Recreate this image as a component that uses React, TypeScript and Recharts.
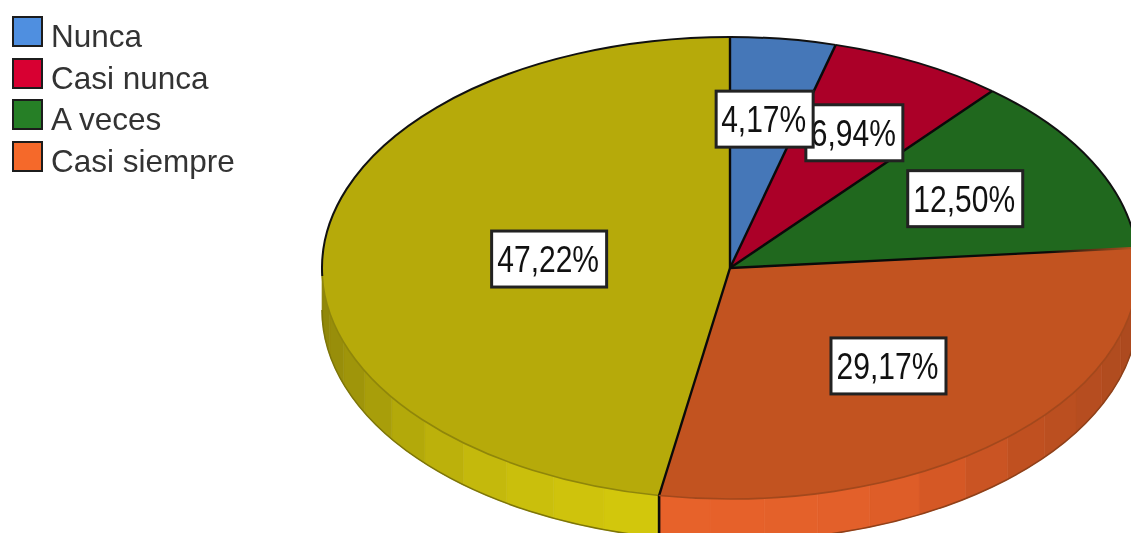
import React from "react";
import { PieChart, Pie, Legend } from "recharts";

const categories = ["Nunca", "Casi nunca", "A veces", "Casi siempre", "Siempre"];
const shares = [4.17, 6.94, 12.5, 29.17, 47.22];
const legendColors = ["#4f8fe0", "#d80032", "#267f26", "#f5692a"];
const topColors = ["#4577b8", "#ab0028", "#20681e", "#c25320", "#b6aa0a"];
const labelReach = [0.65, 0.66, 0.65, 0.575, 0.445];
const wallStops: [number, string][] = [
  [90, "#a5481f"],
  [133, "#bf5020"],
  [148, "#d45825"],
  [160, "#e2602a"],
  [189.9, "#e8622a"],
  [190, "#d4c90c"],
  [202, "#cfc30c"],
  [213, "#c8bd0c"],
  [221, "#c0b50b"],
  [229, "#b8ad0a"],
  [240, "#a89e0a"],
  [252, "#9a900a"],
  [270, "#8b8209"],
];

const WIDTH = 1131;
const HEIGHT = 533;
const TILT = 231 / 408;
const DEPTH = 42;
const BAND = 7.6;
const BAND_OFFSET = 0.4;

// drawn in reverse so the first slice's label sits on top, as in the reference
const rows = categories
  .map((name, i) => ({ name, value: shares[i], order: i }))
  .reverse();

const hex = (c: string) => [1, 3, 5].map((i) => parseInt(c.slice(i, i + 2), 16));
const mix = (a: string, b: string, f: number) => {
  const x = hex(a);
  const y = hex(b);
  return `rgb(${x.map((v, i) => Math.round(v + (y[i] - v) * f)).join(",")})`;
};
const wallColor = (t: number) => {
  for (let i = 1; i < wallStops.length; i++) {
    const [t0, c0] = wallStops[i - 1];
    const [t1, c1] = wallStops[i];
    if (t <= t1) return mix(c0, c1, Math.max(0, (t - t0) / (t1 - t0)));
  }
  return wallStops[wallStops.length - 1][1];
};

const span = (p: any) => {
  const sweep = Math.abs(p.endAngle - p.startAngle);
  const t1 = ((90 - Math.max(p.startAngle, p.endAngle)) % 360 + 360) % 360;
  return { t1, t2: t1 + sweep };
};
const pointAt = (p: any, t: number, drop = 0) => {
  const r = (t * Math.PI) / 180;
  return {
    x: p.cx + p.outerRadius * Math.sin(r),
    y: p.cy - p.outerRadius * TILT * Math.cos(r) + drop,
  };
};
const arcTo = (p: any, a: any, sweepFlag: number, large = 0) =>
  `A${p.outerRadius} ${p.outerRadius * TILT} 0 ${large} ${sweepFlag} ${a.x} ${a.y}`;

const WallShape = (p: any) => {
  const { t1, t2 } = span(p);
  const from = Math.max(t1, 90);
  const to = Math.min(t2, 270);
  if (to <= from) return <g />;
  const bands: React.ReactNode[] = [];
  let g = BAND_OFFSET + Math.floor((from - BAND_OFFSET) / BAND) * BAND;
  for (; g < to; g += BAND) {
    const a = Math.max(g, from);
    const b = Math.min(g + BAND, to);
    const pa = pointAt(p, a);
    const pb = pointAt(p, b);
    const qa = pointAt(p, a, DEPTH);
    const qb = pointAt(p, b, DEPTH);
    const col = wallColor((a + b) / 2);
    bands.push(
      <path
        key={g}
        d={`M${pa.x} ${pa.y}${arcTo(p, pb, 1)}L${qb.x} ${qb.y}${arcTo(p, qa, 0)}Z`}
        fill={col}
        stroke={col}
        strokeWidth={0.6}
      />
    );
  }
  const s = pointAt(p, from, DEPTH);
  const e = pointAt(p, to, DEPTH);
  return (
    <g>
      {bands}
      <path d={`M${s.x} ${s.y}${arcTo(p, e, 1)}`} fill="none" stroke={t1 < 150 ? "#8f4019" : "#7d7508"} strokeWidth={1.5} />
    </g>
  );
};

const TopShape = (p: any) => {
  const { t1, t2 } = span(p);
  const a = pointAt(p, t1);
  const b = pointAt(p, t2);
  const large = t2 - t1 > 180 ? 1 : 0;
  return (
    <path
      d={`M${p.cx} ${p.cy}L${a.x} ${a.y}${arcTo(p, b, 1, large)}Z`}
      fill={topColors[p.payload?.order ?? p.order]}
      stroke="none"
    />
  );
};

const EdgeShape = (p: any) => {
  const { t1, t2 } = span(p);
  const order = p.payload?.order ?? p.order;
  const a = pointAt(p, t1);
  const low1 = Math.max(t1, 85);
  const low2 = Math.min(t2, 268);
  const pieces: React.ReactNode[] = [];
  if (low2 > low1) {
    const s = pointAt(p, low1);
    const e = pointAt(p, low2);
    pieces.push(
      <path key="soft" d={`M${s.x} ${s.y}${arcTo(p, e, 1)}`} fill="none" stroke={order === 3 ? "#a3481c" : "#8f860a"} strokeWidth={1.6} />
    );
  }
  const ranges = [[Math.max(t1, 268), t2], [t1, Math.min(t2, 85)]];
  ranges.forEach(([x, y], i) => {
    if (y > x) {
      const s = pointAt(p, x);
      const e = pointAt(p, y);
      pieces.push(
        <path key={`hard${i}`} d={`M${s.x} ${s.y}${arcTo(p, e, 1, y - x > 180 ? 1 : 0)}`} fill="none" stroke="#111" strokeWidth={2} />
      );
    }
  });
  const fades = order === 3;
  if (fades) {
    pieces.push(
      <linearGradient key="grad" id="fadeEdge" gradientUnits="userSpaceOnUse" x1={p.cx} y1={p.cy} x2={a.x} y2={p.cy}>
        <stop offset="0.78" stopColor="#0a0a0a" />
        <stop offset="0.98" stopColor="#a8501f" />
      </linearGradient>
    );
  }
  pieces.push(
    <line key="spoke" x1={p.cx} y1={p.cy} x2={a.x} y2={a.y} stroke={fades ? "url(#fadeEdge)" : "#0a0a0a"} strokeWidth={2.4} />
  );
  if (order === 4) {
    pieces.push(
      <line key="drop" x1={a.x} y1={a.y} x2={a.x} y2={a.y + DEPTH + 4} stroke="#0a0a0a" strokeWidth={2.6} />
    );
  }
  return <g>{pieces}</g>;
};

const renderLabel = (p: any) => {
  const order = p.payload?.order ?? rows[p.index].order;
  const t = 90 - p.midAngle;
  const r = (t * Math.PI) / 180;
  const reach = labelReach[order] * p.outerRadius;
  const x = p.cx + reach * Math.sin(r);
  const y = p.cy - reach * TILT * Math.cos(r);
  const text = `${shares[order].toFixed(2).replace(".", ",")}%`;
  const w = text.length > 5 ? 115 : 97;
  const h = 56;
  return (
    <g key={order}>
      <rect x={x - w / 2} y={y - h / 2} width={w} height={h} fill="#fff" stroke="#222" strokeWidth={3} />
      <text
        transform={`translate(${x - 1},${y + 13}) scale(1,1.22)`}
        textAnchor="middle"
        fontFamily="'Liberation Sans', Arial, sans-serif"
        fontSize={30}
        fill="#111"
      >
        {text}
      </text>
    </g>
  );
};

const LegendBox = () => (
  <div style={{ position: "absolute", left: 0, top: 0 }}>
    {legendColors.map((c, i) => (
      <div key={c} style={{ position: "absolute", left: 0, top: 16 + i * 41.5, height: 32, whiteSpace: "nowrap" }}>
        <div
          style={{
            position: "absolute",
            left: 12,
            top: 0,
            width: 27,
            height: 27,
            background: c,
            border: "2.5px solid #1c1c1c",
          }}
        />
        <div
          style={{
            position: "absolute",
            left: 51,
            top: 0,
            fontFamily: "'Liberation Sans', Arial, sans-serif",
            fontSize: 31.5,
            lineHeight: "40px",
            color: "#333",
          }}
        >
          {categories[i]}
        </div>
      </div>
    ))}
  </div>
);

export default function App() {
  const common = {
    data: rows,
    dataKey: "value",
    nameKey: "name",
    cx: 730,
    cy: 268,
    innerRadius: 0,
    outerRadius: 408,
    startAngle: 90,
    endAngle: 450,
    stroke: "none",
    isAnimationActive: false,
    labelLine: false,
  };
  return (
    <div
      style={{
        position: "absolute",
        left: 0,
        top: 0,
        width: WIDTH,
        height: HEIGHT,
        overflow: "hidden",
        background: "#fff",
        filter: "blur(0.5px)",
      }}
    >
      <PieChart width={WIDTH} height={HEIGHT} margin={{ top: 0, right: 0, bottom: 0, left: 0 }}>
        <Pie {...common} shape={WallShape} />
        <Pie {...common} shape={TopShape} />
        <Pie {...common} shape={EdgeShape} label={renderLabel} />
        <Legend
          content={<LegendBox />}
          wrapperStyle={{ position: "absolute", left: 0, top: 0, width: 0, height: 0 }}
        />
      </PieChart>
    </div>
  );
}
